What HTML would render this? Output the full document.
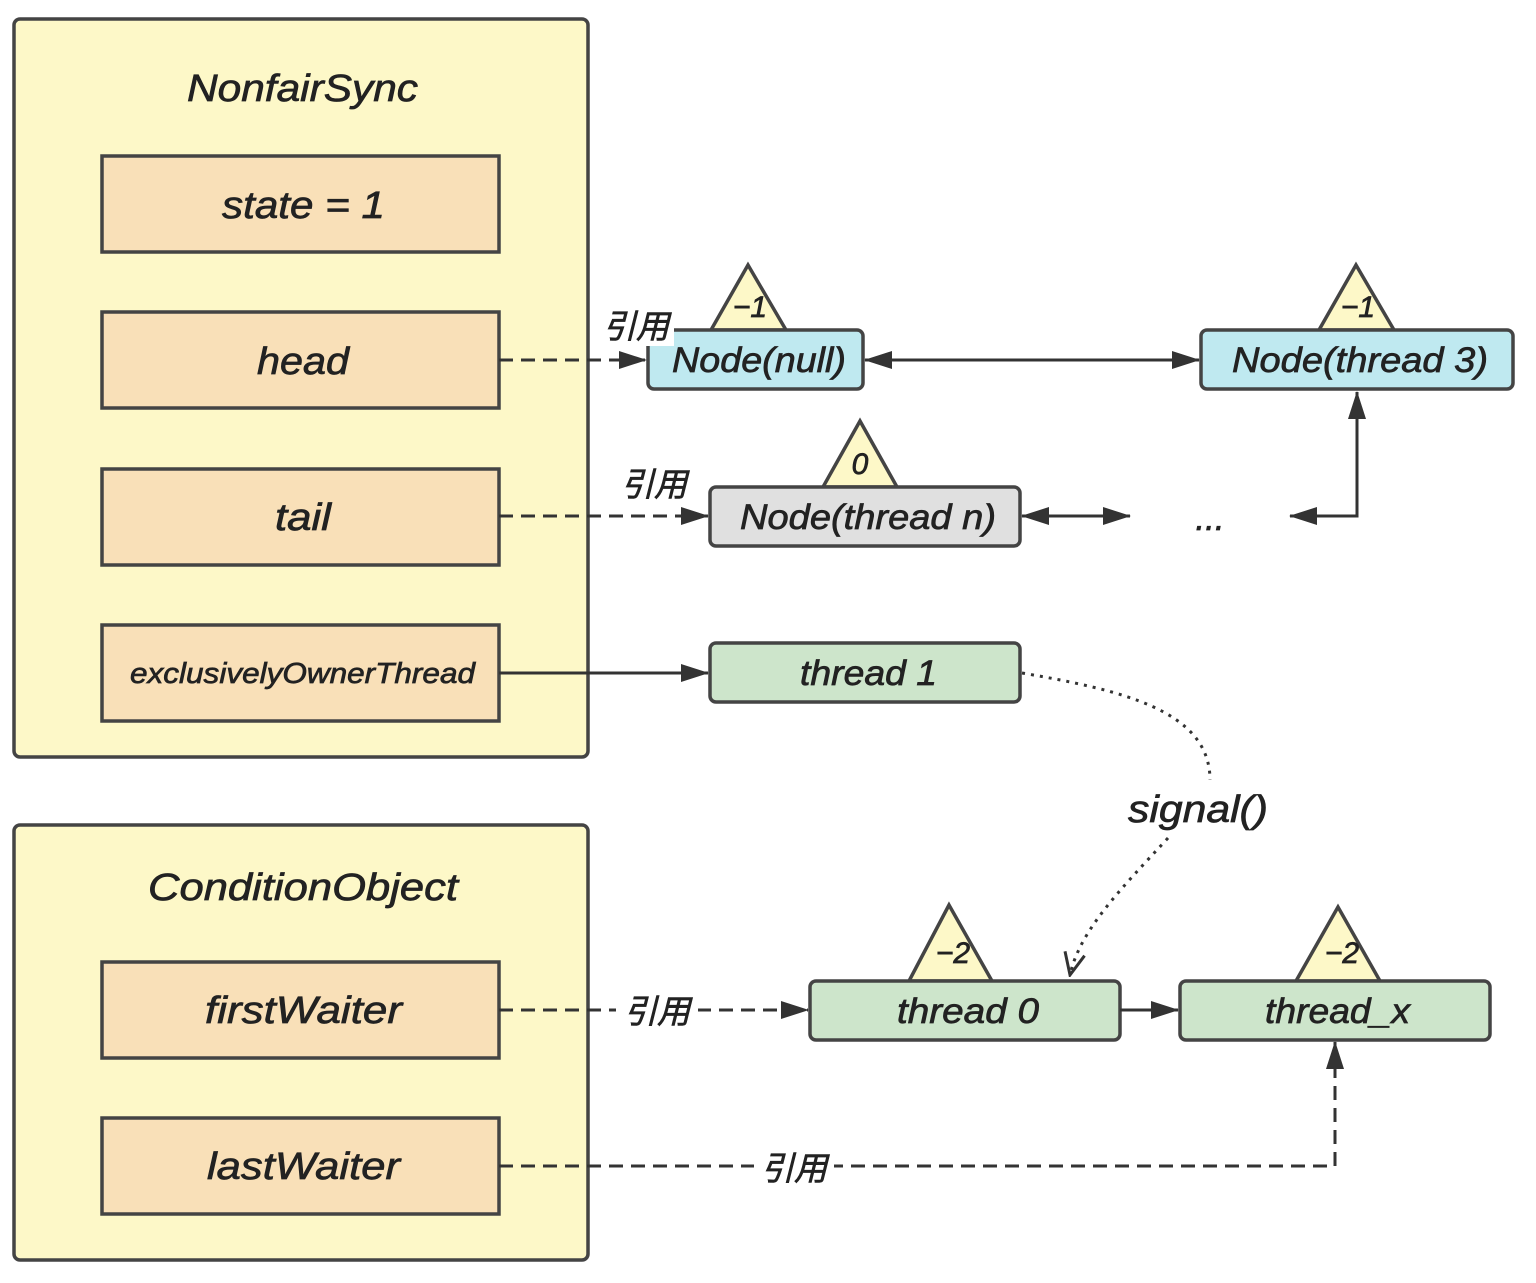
<!DOCTYPE html>
<html><head><meta charset="utf-8"><style>body{margin:0;background:#fff}text{font-family:"Liberation Sans","Noto Sans CJK SC",sans-serif;font-style:italic;fill:#222;stroke:#222;stroke-width:0.7}</style></head><body>
<svg width="1536" height="1278" viewBox="0 0 1536 1278" xmlns="http://www.w3.org/2000/svg">
<defs>
<marker id="b" markerWidth="28" markerHeight="22" refX="27" refY="11" orient="auto-start-reverse" markerUnits="userSpaceOnUse"><path d="M0,2 L28,11 L0,20z" fill="#333"/></marker>
<marker id="o" markerWidth="26" markerHeight="26" refX="24" refY="13" orient="auto" markerUnits="userSpaceOnUse"><path d="M2,3 L24,13 L2,23" fill="none" stroke="#333" stroke-width="3"/></marker>
</defs>
<g stroke="#444" stroke-width="3.5">
<rect x="14" y="19" width="574" height="738" rx="6" fill="#fdf8c8"/>
<rect x="14" y="825" width="574" height="435" rx="6" fill="#fdf8c8"/>
<g fill="#f9e0b8">
<rect x="102" y="156" width="397" height="96"/>
<rect x="102" y="312" width="397" height="96"/>
<rect x="102" y="469" width="397" height="96"/>
<rect x="102" y="625" width="397" height="96"/>
<rect x="102" y="962" width="397" height="96"/>
<rect x="102" y="1118" width="397" height="96"/>
</g>
<polygon points="748,265 711,330 786,330" fill="#fdf8c8"/>
<polygon points="1356,265 1319,330 1394,330" fill="#fdf8c8"/>
<polygon points="860,421 823,487 897,487" fill="#fdf8c8"/>
<polygon points="949,905 909,981 992,981" fill="#fdf8c8"/>
<polygon points="1338,907 1296,981 1380,981" fill="#fdf8c8"/>
<rect x="648" y="330" width="215" height="59" rx="6" fill="#bfe9f0"/>
<rect x="1201" y="330" width="312" height="59" rx="6" fill="#bfe9f0"/>
<rect x="710" y="487" width="310" height="59" rx="6" fill="#e0e0e0"/>
<rect x="710" y="643" width="310" height="59" rx="6" fill="#cde5cb"/>
<rect x="810" y="981" width="310" height="59" rx="6" fill="#cde5cb"/>
<rect x="1180" y="981" width="310" height="59" rx="6" fill="#cde5cb"/>
</g>
<g stroke="#333" stroke-width="3" fill="none">
<path d="M499,360 H646" stroke-dasharray="14,8" marker-end="url(#b)"/>
<path d="M499,516 H708" stroke-dasharray="14,8" marker-end="url(#b)"/>
<path d="M499,673 H708" marker-end="url(#b)"/>
<path d="M865,360 H1199" marker-start="url(#b)" marker-end="url(#b)"/>
<path d="M1022,516 H1130" marker-start="url(#b)" marker-end="url(#b)"/>
<path d="M1290,516 H1357 V392" marker-start="url(#b)" marker-end="url(#b)"/>
<path d="M499,1010 H808" stroke-dasharray="14,8" marker-end="url(#b)"/>
<path d="M1120,1010 H1178" marker-end="url(#b)"/>
<path d="M499,1166 H1335 V1042" stroke-dasharray="14,8" marker-end="url(#b)"/>
<path d="M1022,673 C1120,690 1210,710 1210,780" stroke-dasharray="3,6"/>
<path d="M1168,838 C1120,890 1080,930 1070,975" stroke-dasharray="3,6" marker-end="url(#o)"/>
</g>
<g font-size="38" lengthAdjust="spacingAndGlyphs">
<text x="187" y="101" textLength="231" lengthAdjust="spacingAndGlyphs">NonfairSync</text>
<text x="222" y="218" textLength="163" lengthAdjust="spacingAndGlyphs">state = 1</text>
<text x="257" y="374" textLength="92" lengthAdjust="spacingAndGlyphs">head</text>
<text x="275" y="530" textLength="56" lengthAdjust="spacingAndGlyphs">tail</text>
<text x="130" y="683" font-size="29" textLength="345" lengthAdjust="spacingAndGlyphs">exclusivelyOwnerThread</text>
<text x="148" y="900" textLength="310" lengthAdjust="spacingAndGlyphs">ConditionObject</text>
<text x="205" y="1023" textLength="197" lengthAdjust="spacingAndGlyphs">firstWaiter</text>
<text x="207" y="1179" textLength="193" lengthAdjust="spacingAndGlyphs">lastWaiter</text>
<text x="1128" y="822" textLength="140" lengthAdjust="spacingAndGlyphs">signal()</text>
</g>
<g font-size="35">
<text x="672" y="372" textLength="174" lengthAdjust="spacingAndGlyphs">Node(null)</text>
<text x="1232" y="372" textLength="256" lengthAdjust="spacingAndGlyphs">Node(thread 3)</text>
<text x="740" y="529" textLength="256" lengthAdjust="spacingAndGlyphs">Node(thread n)</text>
<text x="800" y="685" textLength="137" lengthAdjust="spacingAndGlyphs">thread 1</text>
<text x="897" y="1023" textLength="142" lengthAdjust="spacingAndGlyphs">thread 0</text>
<text x="1265" y="1023" textLength="145" lengthAdjust="spacingAndGlyphs">thread_x</text>
<text x="1210" y="530" text-anchor="middle">...</text>
</g>
<g text-anchor="middle" font-size="30">
<text x="750" y="317">−1</text>
<text x="1358" y="317">−1</text>
<text x="860" y="474">0</text>
<text x="953" y="963">−2</text>
<text x="1342" y="963">−2</text>
</g>
<g font-size="33" text-anchor="middle" font-style="normal">
<rect x="598" y="306" width="76" height="40" fill="#fff" stroke="none"/>
<text x="636" y="338">引用</text>
<text x="654" y="496">引用</text>
<rect x="616" y="990" width="82" height="40" fill="#fff" stroke="none"/>
<text x="657" y="1023">引用</text>
<rect x="754" y="1146" width="80" height="40" fill="#fff" stroke="none"/>
<text x="794" y="1180">引用</text>
</g>
</svg>
</body></html>
